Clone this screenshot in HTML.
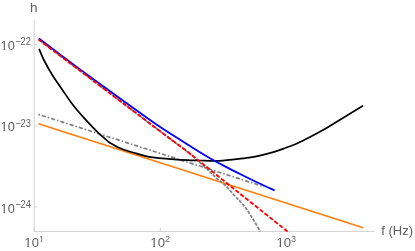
<!DOCTYPE html>
<html><head><meta charset="utf-8">
<style>
html,body{margin:0;padding:0;background:#fff;}
body{width:415px;height:251px;overflow:hidden;font-family:"Liberation Sans",sans-serif;}
svg{display:block}
text{font-family:"Liberation Sans",sans-serif;fill:#5f5f5f}
</style></head><body>
<svg width="415" height="251" viewBox="0 0 415 251">
<rect width="415" height="251" fill="#fff"/>
<g stroke="#d2d2d2" stroke-width="1" fill="none">
<line x1="34.15" y1="20.2" x2="34.15" y2="231.9"/>
<line x1="33.6" y1="231.45" x2="374.6" y2="231.45"/>
<line x1="34.15" y1="227.6" x2="34.15" y2="231.4"/>
<line x1="34" y1="44.4" x2="37.2" y2="44.4"/>
<line x1="34" y1="125.9" x2="37.2" y2="125.9"/>
<line x1="34" y1="206.9" x2="37.2" y2="206.9"/>
<line x1="160.3" y1="231.4" x2="160.3" y2="227.6"/>
<line x1="286.5" y1="231.4" x2="286.5" y2="227.6"/>
</g>
<g fill="none" stroke-width="1.7" stroke-linecap="butt" stroke-linejoin="round">
<path d="M38.50 123.70 L363.20 227.80" stroke="#ff7f0e"/>
<path d="M38.50 114.40 L264.20 186.71" stroke="#7f7f7f" stroke-dasharray="1.5 2.0 4.2 2.0"/>
<path d="M38.50 39.40 C52.42 49.90 102.55 87.68 122.00 102.40 C141.45 117.12 144.70 119.77 155.20 127.70 C165.70 135.63 178.70 145.22 185.00 150.00 C191.30 154.78 190.50 154.30 193.00 156.40 C195.50 158.50 197.28 160.12 200.00 162.60 C202.72 165.08 206.95 169.10 209.30 171.30 C211.65 173.50 212.50 174.30 214.10 175.80 C215.70 177.30 217.02 178.70 218.90 180.30 C220.78 181.90 222.88 182.95 225.40 185.40 C227.92 187.85 231.48 192.27 234.00 195.00 C236.52 197.73 238.50 199.58 240.50 201.80 C242.50 204.02 244.25 205.93 246.00 208.30 C247.75 210.67 249.33 213.38 251.00 216.00 C252.67 218.62 254.45 221.42 256.00 224.00 C257.55 226.58 259.58 230.25 260.30 231.50" stroke="#7f7f7f" stroke-dasharray="3.3 1.3"/>
<path d="M39.10 48.80 C39.90 50.67 41.70 55.63 43.90 60.00 C46.10 64.37 49.20 70.00 52.30 75.00 C55.40 80.00 59.05 85.00 62.50 90.00 C65.95 95.00 69.42 100.35 73.00 105.00 C76.58 109.65 79.73 113.20 84.00 117.90 C88.27 122.60 94.25 129.02 98.60 133.20 C102.95 137.38 108.18 141.37 110.10 143.00 C111.38 143.70 115.48 146.08 117.80 147.20 C120.12 148.32 120.80 148.63 124.00 149.70 C127.20 150.77 132.83 152.42 137.00 153.60 C141.17 154.78 142.83 155.83 149.00 156.80 C155.17 157.77 167.17 158.82 174.00 159.40 C180.83 159.98 185.67 160.12 190.00 160.30 C194.33 160.48 195.67 160.40 200.00 160.50 C204.33 160.60 210.00 161.12 216.00 160.90 C222.00 160.68 230.50 159.73 236.00 159.20 C241.50 158.67 244.67 158.38 249.00 157.70 C253.33 157.02 257.67 156.12 262.00 155.10 C266.33 154.08 271.00 152.83 275.00 151.60 C279.00 150.37 282.33 149.05 286.00 147.70 C289.67 146.35 293.00 145.27 297.00 143.50 C301.00 141.73 305.67 139.33 310.00 137.10 C314.33 134.87 318.67 132.58 323.00 130.10 C327.33 127.62 329.33 126.25 336.00 122.20 C342.67 118.15 358.50 108.53 363.00 105.80" stroke="#000"/>
<path d="M38.90 38.40 C42.42 41.07 51.65 48.13 60.00 54.40 C68.35 60.67 78.42 68.25 89.00 76.00 C99.58 83.75 112.00 92.65 123.50 100.90 C135.00 109.15 148.50 118.98 158.00 125.50 C167.50 132.02 173.58 135.58 180.50 140.00 C187.42 144.42 194.58 148.97 199.50 152.00 C204.42 155.03 205.75 155.80 210.00 158.20 C214.25 160.60 219.83 163.68 225.00 166.40 C230.17 169.12 235.50 171.77 241.00 174.50 C246.50 177.23 252.40 180.15 258.00 182.80 C263.60 185.45 271.83 189.13 274.60 190.40" stroke="#0000ff" stroke-width="1.8"/>
<path d="M38.50 39.50 C52.42 49.98 102.55 87.73 122.00 102.40 C141.45 117.07 144.70 119.60 155.20 127.50 C165.70 135.40 178.37 144.78 185.00 149.80 C191.63 154.82 191.67 154.97 195.00 157.60 C198.33 160.23 198.80 160.62 205.00 165.60 C211.20 170.58 223.03 180.17 232.20 187.50 C241.37 194.83 250.78 202.27 260.00 209.60 C269.22 216.93 282.92 227.85 287.50 231.50" stroke="#ff0000" stroke-width="1.85" stroke-dasharray="4.4 1.8"/>
</g>
<defs><filter id="tf" x="-5%" y="-5%" width="110%" height="110%"><feGaussianBlur stdDeviation="0.3"/></filter></defs>
<g filter="url(#tf)">
<text x="30.0" y="11.8" font-size="13.6">h</text>
<text x="381.3" y="235.3" font-size="13">f (Hz)</text>
<text x="0.60" y="49.80" font-size="12.8">10</text><rect x="0.80" y="48.50" width="2.75" height="1.8" fill="#fff"/><rect x="5.10" y="48.50" width="2.20" height="1.8" fill="#fff"/><text x="15.20" y="45.20" font-size="10.4" textLength="15.8" lengthAdjust="spacingAndGlyphs">−22</text>
<text x="0.60" y="131.30" font-size="12.8">10</text><rect x="0.80" y="130.00" width="2.75" height="1.8" fill="#fff"/><rect x="5.10" y="130.00" width="2.20" height="1.8" fill="#fff"/><text x="15.20" y="126.70" font-size="10.4" textLength="15.8" lengthAdjust="spacingAndGlyphs">−23</text>
<text x="0.60" y="212.80" font-size="12.8">10</text><rect x="0.80" y="211.50" width="2.75" height="1.8" fill="#fff"/><rect x="5.10" y="211.50" width="2.20" height="1.8" fill="#fff"/><text x="15.20" y="208.20" font-size="10.4" textLength="15.8" lengthAdjust="spacingAndGlyphs">−24</text>
<text x="24.30" y="247.40" font-size="13.2">10</text><rect x="24.51" y="246.10" width="2.84" height="1.8" fill="#fff"/><rect x="28.94" y="246.10" width="2.27" height="1.8" fill="#fff"/><text x="38.90" y="241.90" font-size="9.5" textLength="5.0" lengthAdjust="spacingAndGlyphs">1</text>
<rect x="38.6" y="240.8" width="2.3" height="1.8" fill="#fff"/><rect x="42.05" y="240.8" width="2.4" height="1.8" fill="#fff"/>
<text x="150.30" y="247.40" font-size="13.2">10</text><rect x="150.51" y="246.10" width="2.84" height="1.8" fill="#fff"/><rect x="154.94" y="246.10" width="2.27" height="1.8" fill="#fff"/><text x="164.90" y="241.90" font-size="9.5" textLength="5.0" lengthAdjust="spacingAndGlyphs">2</text>
<text x="276.50" y="247.40" font-size="13.2">10</text><rect x="276.71" y="246.10" width="2.84" height="1.8" fill="#fff"/><rect x="281.14" y="246.10" width="2.27" height="1.8" fill="#fff"/><text x="291.10" y="241.90" font-size="9.5" textLength="5.0" lengthAdjust="spacingAndGlyphs">3</text>
</g>
</svg>
</body></html>
